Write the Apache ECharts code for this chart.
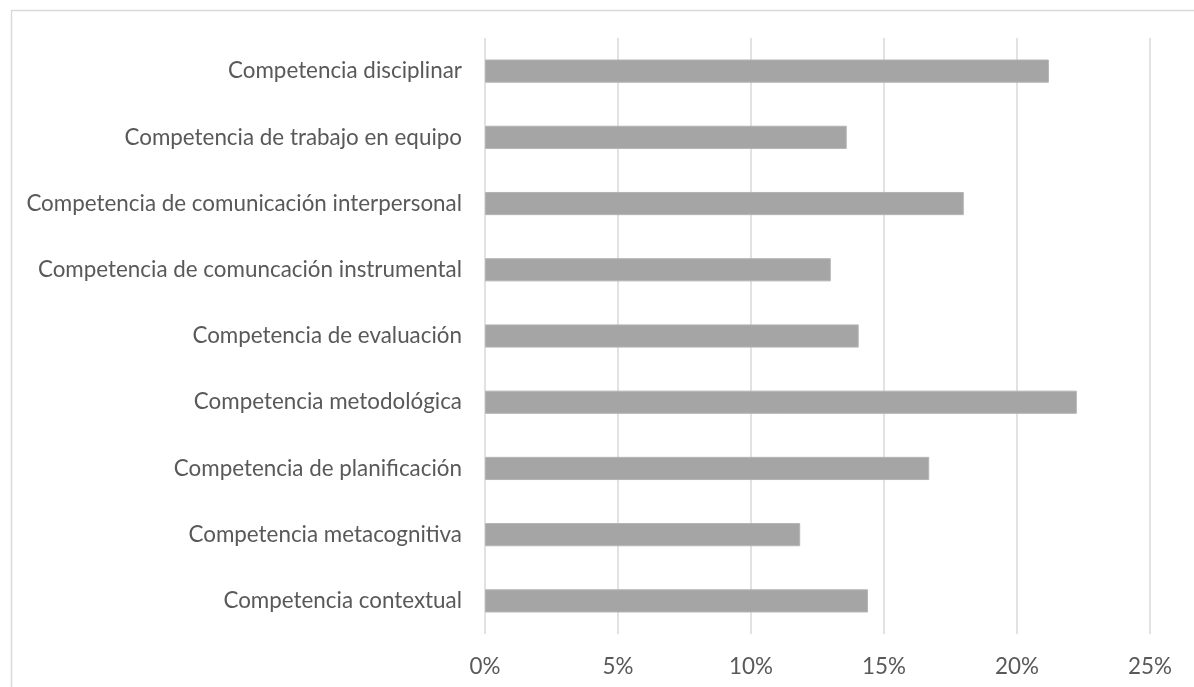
<!DOCTYPE html>
<html>
<head>
<meta charset="utf-8">
<script src="https://cdn.jsdelivr.net/npm/echarts@6/dist/echarts.min.js"></script>
<style>
  html, body { margin: 0; padding: 0; background: #ffffff; }
  #chart { width: 1194px; height: 687px; }
</style>
</head>
<body>
<div id="chart"></div>
<script>
// Competencias, listed top to bottom
const categories = [
  'Competencia disciplinar',
  'Competencia de trabajo en equipo',
  'Competencia de comunicación interpersonal',
  'Competencia de comuncación instrumental',
  'Competencia de evaluación',
  'Competencia metodológica',
  'Competencia de planificación',
  'Competencia metacognitiva',
  'Competencia contextual'
];

// Share of each competencia, in percent
const values = [21.2, 13.6, 18.0, 13.0, 14.05, 22.25, 16.7, 11.85, 14.4];

// Horizontal axis ticks, in percent
const axisMin = 0;
const axisMax = 25;
const axisStep = 5;

const textColor = '#595959';
const lineColor = '#D9D9D9';
const fontFamily = 'Lato, "Open Sans", sans-serif';

const chart = echarts.init(document.getElementById('chart'), null, { renderer: 'canvas' });

chart.setOption({
  animation: false,
  backgroundColor: '#ffffff',
  graphic: [{
    type: 'rect',
    left: 9,
    top: 8,
    shape: { width: 1200, height: 700 },
    style: { fill: 'none', stroke: lineColor, lineWidth: 1.5 },
    silent: true
  }],
  grid: { left: 485, right: 44, top: 38, bottom: 53, containLabel: false },
  xAxis: {
    type: 'value',
    min: axisMin,
    max: axisMax,
    interval: axisStep,
    axisLine: { show: false },
    axisTick: { show: false },
    splitLine: { show: true, lineStyle: { color: lineColor, width: 1.5 } },
    axisLabel: {
      formatter: '{value}%',
      color: textColor,
      fontFamily: fontFamily,
      fontSize: 22.4,
      margin: 22
    }
  },
  yAxis: {
    type: 'category',
    data: categories,
    inverse: true,
    axisLine: { show: false },
    axisTick: { show: false },
    splitLine: { show: false },
    axisLabel: {
      color: textColor,
      fontFamily: fontFamily,
      fontSize: 22.4,
      margin: 23
    }
  },
  series: [{
    type: 'bar',
    data: values,
    barCategoryGap: '65%',
    itemStyle: { color: '#A5A5A5', borderColor: '#B4B4B4', borderWidth: 1 },
    label: { show: false }
  }]
});
</script>
</body>
</html>
